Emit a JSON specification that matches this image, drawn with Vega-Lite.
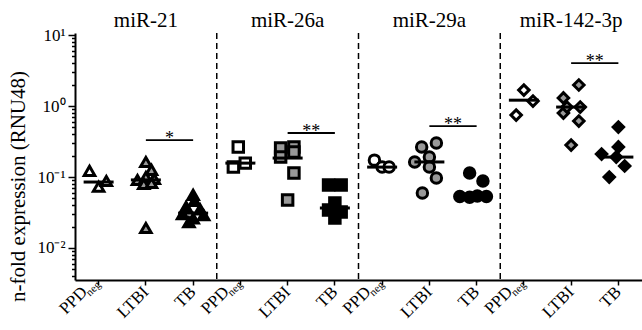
{
  "$schema": "https://vega.github.io/schema/vega-lite/v6.json",
  "width": 567,
  "height": 247,
  "autosize": {"type": "none"},
  "padding": {"left": 75, "top": 33, "right": 0, "bottom": 50},
  "config": {
    "view": {"stroke": null},
    "axis": {"domainColor": "black", "domainWidth": 2, "tickColor": "black", "tickWidth": 1.5, "labelColor": "black", "titleColor": "black", "grid": false},
    "text": {"font": "Liberation Serif"},
    "mark": {"font": "Liberation Serif"}
  },
  "datasets": {
    "pts": [
      {"mir": "miR-21", "grp": "PPD", "cat": "miR-21|PPD", "lane": -1.3, "v": 0.122},
      {"mir": "miR-21", "grp": "PPD", "cat": "miR-21|PPD", "lane": 0, "v": 0.073},
      {"mir": "miR-21", "grp": "PPD", "cat": "miR-21|PPD", "lane": 1.1, "v": 0.088},
      {"mir": "miR-21", "grp": "LTBI", "cat": "miR-21|LTBI", "lane": 0, "v": 0.163},
      {"mir": "miR-21", "grp": "LTBI", "cat": "miR-21|LTBI", "lane": 0.8, "v": 0.126},
      {"mir": "miR-21", "grp": "LTBI", "cat": "miR-21|LTBI", "lane": -1.2, "v": 0.0908},
      {"mir": "miR-21", "grp": "LTBI", "cat": "miR-21|LTBI", "lane": 0, "v": 0.1},
      {"mir": "miR-21", "grp": "LTBI", "cat": "miR-21|LTBI", "lane": 1.2, "v": 0.0937},
      {"mir": "miR-21", "grp": "LTBI", "cat": "miR-21|LTBI", "lane": -0.3, "v": 0.0797},
      {"mir": "miR-21", "grp": "LTBI", "cat": "miR-21|LTBI", "lane": 0.8, "v": 0.0823},
      {"mir": "miR-21", "grp": "LTBI", "cat": "miR-21|LTBI", "lane": 0, "v": 0.0191},
      {"mir": "miR-21", "grp": "TB", "cat": "miR-21|TB", "lane": 0, "v": 0.056},
      {"mir": "miR-21", "grp": "TB", "cat": "miR-21|TB", "lane": 0.2, "v": 0.046},
      {"mir": "miR-21", "grp": "TB", "cat": "miR-21|TB", "lane": -1, "v": 0.038},
      {"mir": "miR-21", "grp": "TB", "cat": "miR-21|TB", "lane": 1, "v": 0.035},
      {"mir": "miR-21", "grp": "TB", "cat": "miR-21|TB", "lane": -1.5, "v": 0.03},
      {"mir": "miR-21", "grp": "TB", "cat": "miR-21|TB", "lane": 1.5, "v": 0.029},
      {"mir": "miR-21", "grp": "TB", "cat": "miR-21|TB", "lane": 0, "v": 0.026},
      {"mir": "miR-21", "grp": "TB", "cat": "miR-21|TB", "lane": -0.6, "v": 0.023},
      {"mir": "miR-26a", "grp": "PPD", "cat": "miR-26a|PPD", "lane": -0.3, "v": 0.265},
      {"mir": "miR-26a", "grp": "PPD", "cat": "miR-26a|PPD", "lane": -1, "v": 0.138},
      {"mir": "miR-26a", "grp": "PPD", "cat": "miR-26a|PPD", "lane": 0.7, "v": 0.157},
      {"mir": "miR-26a", "grp": "LTBI", "cat": "miR-26a|LTBI", "lane": -1, "v": 0.256},
      {"mir": "miR-26a", "grp": "LTBI", "cat": "miR-26a|LTBI", "lane": 0.9, "v": 0.265},
      {"mir": "miR-26a", "grp": "LTBI", "cat": "miR-26a|LTBI", "lane": -1, "v": 0.191},
      {"mir": "miR-26a", "grp": "LTBI", "cat": "miR-26a|LTBI", "lane": 0.9, "v": 0.225},
      {"mir": "miR-26a", "grp": "LTBI", "cat": "miR-26a|LTBI", "lane": 0.9, "v": 0.114},
      {"mir": "miR-26a", "grp": "LTBI", "cat": "miR-26a|LTBI", "lane": 0, "v": 0.0474},
      {"mir": "miR-26a", "grp": "TB", "cat": "miR-26a|TB", "lane": -0.9, "v": 0.077},
      {"mir": "miR-26a", "grp": "TB", "cat": "miR-26a|TB", "lane": 0.9, "v": 0.077},
      {"mir": "miR-26a", "grp": "TB", "cat": "miR-26a|TB", "lane": 0, "v": 0.043},
      {"mir": "miR-26a", "grp": "TB", "cat": "miR-26a|TB", "lane": -0.9, "v": 0.0343},
      {"mir": "miR-26a", "grp": "TB", "cat": "miR-26a|TB", "lane": 0.9, "v": 0.0321},
      {"mir": "miR-26a", "grp": "TB", "cat": "miR-26a|TB", "lane": 0, "v": 0.0265},
      {"mir": "miR-29a", "grp": "PPD", "cat": "miR-29a|PPD", "lane": -1.1, "v": 0.173},
      {"mir": "miR-29a", "grp": "PPD", "cat": "miR-29a|PPD", "lane": 0, "v": 0.138},
      {"mir": "miR-29a", "grp": "PPD", "cat": "miR-29a|PPD", "lane": 1, "v": 0.138},
      {"mir": "miR-29a", "grp": "LTBI", "cat": "miR-29a|LTBI", "lane": -1.1, "v": 0.265},
      {"mir": "miR-29a", "grp": "LTBI", "cat": "miR-29a|LTBI", "lane": 1, "v": 0.301},
      {"mir": "miR-29a", "grp": "LTBI", "cat": "miR-29a|LTBI", "lane": -2.1, "v": 0.163},
      {"mir": "miR-29a", "grp": "LTBI", "cat": "miR-29a|LTBI", "lane": 0, "v": 0.191},
      {"mir": "miR-29a", "grp": "LTBI", "cat": "miR-29a|LTBI", "lane": 0, "v": 0.138},
      {"mir": "miR-29a", "grp": "LTBI", "cat": "miR-29a|LTBI", "lane": 1, "v": 0.0968},
      {"mir": "miR-29a", "grp": "LTBI", "cat": "miR-29a|LTBI", "lane": -1, "v": 0.0596},
      {"mir": "miR-29a", "grp": "TB", "cat": "miR-29a|TB", "lane": -1, "v": 0.114},
      {"mir": "miR-29a", "grp": "TB", "cat": "miR-29a|TB", "lane": 0.9, "v": 0.088},
      {"mir": "miR-29a", "grp": "TB", "cat": "miR-29a|TB", "lane": -2.4, "v": 0.053},
      {"mir": "miR-29a", "grp": "TB", "cat": "miR-29a|TB", "lane": -1, "v": 0.052},
      {"mir": "miR-29a", "grp": "TB", "cat": "miR-29a|TB", "lane": 0.1, "v": 0.054},
      {"mir": "miR-29a", "grp": "TB", "cat": "miR-29a|TB", "lane": 1.4, "v": 0.053},
      {"mir": "miR-142-3p", "grp": "PPD", "cat": "miR-142-3p|PPD", "lane": 0, "v": 1.68},
      {"mir": "miR-142-3p", "grp": "PPD", "cat": "miR-142-3p|PPD", "lane": 1.3, "v": 1.176},
      {"mir": "miR-142-3p", "grp": "PPD", "cat": "miR-142-3p|PPD", "lane": -1.1, "v": 0.746},
      {"mir": "miR-142-3p", "grp": "LTBI", "cat": "miR-142-3p|LTBI", "lane": 1.1, "v": 1.98},
      {"mir": "miR-142-3p", "grp": "LTBI", "cat": "miR-142-3p|LTBI", "lane": -1.1, "v": 1.3},
      {"mir": "miR-142-3p", "grp": "LTBI", "cat": "miR-142-3p|LTBI", "lane": -1.1, "v": 0.797},
      {"mir": "miR-142-3p", "grp": "LTBI", "cat": "miR-142-3p|LTBI", "lane": 1.3, "v": 0.968},
      {"mir": "miR-142-3p", "grp": "LTBI", "cat": "miR-142-3p|LTBI", "lane": 1.1, "v": 0.615},
      {"mir": "miR-142-3p", "grp": "LTBI", "cat": "miR-142-3p|LTBI", "lane": 0, "v": 0.282},
      {"mir": "miR-142-3p", "grp": "LTBI", "cat": "miR-142-3p|LTBI", "lane": -0.6, "v": 0.968},
      {"mir": "miR-142-3p", "grp": "TB", "cat": "miR-142-3p|TB", "lane": 0, "v": 0.506},
      {"mir": "miR-142-3p", "grp": "TB", "cat": "miR-142-3p|TB", "lane": -2.4, "v": 0.211},
      {"mir": "miR-142-3p", "grp": "TB", "cat": "miR-142-3p|TB", "lane": 0, "v": 0.265},
      {"mir": "miR-142-3p", "grp": "TB", "cat": "miR-142-3p|TB", "lane": -0.3, "v": 0.191},
      {"mir": "miR-142-3p", "grp": "TB", "cat": "miR-142-3p|TB", "lane": 0.9, "v": 0.143},
      {"mir": "miR-142-3p", "grp": "TB", "cat": "miR-142-3p|TB", "lane": -1.3, "v": 0.1}
    ],
    "med": [
      {"cat": "miR-21|PPD", "v": 0.085},
      {"cat": "miR-21|LTBI", "v": 0.091},
      {"cat": "miR-21|TB", "v": 0.031},
      {"cat": "miR-26a|PPD", "v": 0.157},
      {"cat": "miR-26a|LTBI", "v": 0.185},
      {"cat": "miR-26a|TB", "v": 0.0366},
      {"cat": "miR-29a|PPD", "v": 0.138},
      {"cat": "miR-29a|LTBI", "v": 0.163},
      {"cat": "miR-29a|TB", "v": 0.054},
      {"cat": "miR-142-3p|PPD", "v": 1.21},
      {"cat": "miR-142-3p|LTBI", "v": 0.968},
      {"cat": "miR-142-3p|TB", "v": 0.191}
    ],
    "sig": [
      {"from": "miR-21|LTBI", "to": "miR-21|TB", "v": 0.332, "star": "*"},
      {"from": "miR-26a|LTBI", "to": "miR-26a|TB", "v": 0.417, "star": "**"},
      {"from": "miR-29a|LTBI", "to": "miR-29a|TB", "v": 0.522, "star": "**"},
      {"from": "miR-142-3p|LTBI", "to": "miR-142-3p|TB", "v": 4.03, "star": "**"}
    ],
    "sep": [
      {"cat": "miR-21|TB"},
      {"cat": "miR-26a|TB"},
      {"cat": "miR-29a|TB"}
    ],
    "titles": [
      {"cat": "miR-21|LTBI", "label": "miR-21"},
      {"cat": "miR-26a|LTBI", "label": "miR-26a"},
      {"cat": "miR-29a|LTBI", "label": "miR-29a"},
      {"cat": "miR-142-3p|LTBI", "label": "miR-142-3p"}
    ],
    "neg": [
      {"cat": "miR-21|PPD", "sub": "neg"},
      {"cat": "miR-26a|PPD", "sub": "neg"},
      {"cat": "miR-29a|PPD", "sub": "neg"},
      {"cat": "miR-142-3p|PPD", "sub": "neg"}
    ]
  },
  "layer": [
    {
      "data": {"name": "sep"},
      "mark": {"type": "rule", "color": "black", "strokeWidth": 1.5, "strokeDash": [6, 4]},
      "encoding": {
        "x": {"field": "cat", "type": "nominal", "bandPosition": 1,
          "scale": {"type": "band", "domain": ["miR-21|PPD", "miR-21|LTBI", "miR-21|TB", "miR-26a|PPD", "miR-26a|LTBI", "miR-26a|TB", "miR-29a|PPD", "miR-29a|LTBI", "miR-29a|TB", "miR-142-3p|PPD", "miR-142-3p|LTBI", "miR-142-3p|TB"], "paddingInner": 0, "paddingOuter": 0},
          "axis": {
            "title": null,
            "labelExpr": "split(datum.label, '|')[1]",
            "labelFont": "Liberation Serif",
            "labelAngle": -45,
            "labelAlign": "right",
            "labelBaseline": "middle",
            "labelFontSize": 17,
            "labelPadding": 4,
            "labelOverlap": false,
            "labelBound": false,
            "tickSize": 5,
            "labelOffset": {"condition": {"test": "indexof(datum.value, 'PPD') >= 0", "value": -14}, "value": 0}
          }
        }
      }
    },
    {
      "data": {"name": "pts"},
      "mark": {"type": "point", "filled": true, "stroke": "black", "strokeWidth": 3, "size": 110, "opacity": 1},
      "encoding": {
        "x": {"field": "cat", "type": "nominal", "scale": {"type": "band"}},
        "xOffset": {"field": "lane", "type": "quantitative", "scale": {"domain": [-3.375, 3.375], "range": [0, 47.25]}},
        "y": {"field": "v", "type": "quantitative",
          "scale": {"type": "log", "domain": [0.00354, 10.7], "nice": false},
          "axis": {
            "values": [0.004, 0.005, 0.006, 0.007, 0.008, 0.009, 0.01, 0.02, 0.03, 0.04, 0.05, 0.06, 0.07, 0.08, 0.09, 0.1, 0.2, 0.3, 0.4, 0.5, 0.6, 0.7, 0.8, 0.9, 1, 2, 3, 4, 5, 6, 7, 8, 9, 10],
            "labelExpr": "datum.value == 10 ? '10¹' : datum.value == 1 ? '10⁰' : datum.value == 0.1 ? '10⁻¹' : datum.value == 0.01 ? '10⁻²' : ''",
            "tickSize": {"condition": {"test": "indexof([0.01, 0.1, 1, 10], datum.value) >= 0", "value": 7}, "value": 3.5},
            "labelFont": "Liberation Serif",
            "labelFontSize": 17,
            "labelPadding": 3,
            "labelOverlap": false,
            "title": "n-fold expression (RNU48)",
            "titleFont": "Liberation Serif",
            "titleFontSize": 21,
            "titleFontWeight": "normal",
            "titlePadding": 8,
            "titleY": 153
          }
        },
        "shape": {"field": "mir", "type": "nominal", "scale": {"domain": ["miR-21", "miR-26a", "miR-29a", "miR-142-3p"], "range": ["triangle-up", "square", "circle", "diamond"]}, "legend": null},
        "fill": {"field": "grp", "type": "nominal", "scale": {"domain": ["PPD", "LTBI", "TB"], "range": ["#ffffff", "#999999", "#000000"]}, "legend": null}
      }
    },
    {
      "data": {"name": "med"},
      "mark": {"type": "tick", "color": "black", "opacity": 1, "thickness": 3, "size": 30},
      "encoding": {
        "x": {"field": "cat", "type": "nominal", "scale": {"type": "band"}},
        "y": {"field": "v", "type": "quantitative", "scale": {"type": "log"}}
      }
    },
    {
      "data": {"name": "sig"},
      "mark": {"type": "rule", "color": "black", "strokeWidth": 1.8},
      "encoding": {
        "x": {"field": "from", "type": "nominal", "scale": {"type": "band"}},
        "x2": {"field": "to"},
        "y": {"field": "v", "type": "quantitative", "scale": {"type": "log"}}
      }
    },
    {
      "data": {"name": "sig"},
      "mark": {"type": "text", "color": "black", "font": "Liberation Serif", "fontSize": 18, "baseline": "alphabetic", "align": "center", "dy": 4},
      "encoding": {
        "x": {"field": "from", "type": "nominal", "bandPosition": 1, "scale": {"type": "band"}},
        "y": {"field": "v", "type": "quantitative", "scale": {"type": "log"}},
        "text": {"field": "star"}
      }
    },
    {
      "data": {"name": "titles"},
      "mark": {"type": "text", "color": "black", "font": "Liberation Serif", "fontSize": 21, "baseline": "alphabetic", "align": "center", "dy": -6},
      "encoding": {
        "x": {"field": "cat", "type": "nominal", "scale": {"type": "band"}},
        "y": {"datum": 10.7, "type": "quantitative", "scale": {"type": "log"}},
        "text": {"field": "label"}
      }
    },
    {
      "data": {"name": "neg"},
      "mark": {"type": "text", "color": "black", "font": "Liberation Serif", "fontSize": 11, "baseline": "middle", "align": "center", "angle": 315, "dx": -9.9, "dy": 2.8},
      "encoding": {
        "x": {"field": "cat", "type": "nominal", "scale": {"type": "band"}},
        "y": {"datum": 0.00354, "type": "quantitative", "scale": {"type": "log"}},
        "text": {"field": "sub"}
      }
    }
  ]
}
